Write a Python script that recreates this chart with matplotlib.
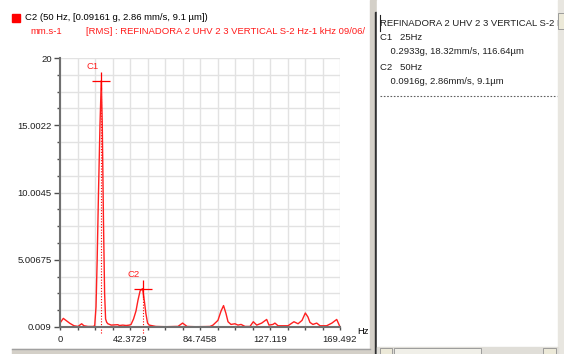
import matplotlib
matplotlib.use('Agg')
import matplotlib.pyplot as plt
from matplotlib.patches import Rectangle
import numpy as np

plt.rcParams['font.family'] = ['Liberation Sans', 'DejaVu Sans']

# spectrum vertices (Hz, mm/s)
freqs = [0.0, 2.0, 3.6, 6.0, 8.5, 10.9, 13.1, 14.5, 16.9, 20.0, 21.0, 21.8, 22.5, 23.3,
         24.2, 25.0, 25.6, 26.3, 27.0, 27.6, 28.3, 29.0, 31.0, 35.0, 36.0, 38.0, 40.0,
         42.0, 43.0, 44.5, 46.0, 47.2, 48.5, 50.0, 51.0, 52.0, 53.0, 54.0, 58.0, 64.0,
         70.0, 71.4, 74.2, 76.9, 82.0, 88.0, 90.8, 92.6, 95.6, 97.5, 99.0, 100.5, 101.7,
         103.5, 105.9, 107.7, 109.6, 112.0, 115.0, 117.0, 119.1, 122.1, 125.1, 126.5,
         128.9, 130.1, 132.0, 138.0, 141.6, 144.1, 146.5, 148.5, 150.1, 151.3, 153.1,
         155.4, 157.4, 161.4, 164.6, 167.5, 169.2]
amps = [0.30, 0.65, 0.50, 0.28, 0.10, 0.05, 0.25, 0.10, 0.05, 0.05, 0.10, 1.5, 5.0, 10.0,
        15.0, 18.32, 15.0, 8.0, 2.5, 0.6, 0.35, 0.25, 0.15, 0.18, 0.12, 0.15, 0.12,
        0.15, 0.20, 0.60, 1.20, 2.00, 2.70, 2.86, 2.00, 1.00, 0.30, 0.15, 0.05, 0.03,
        0.05, 0.05, 0.30, 0.05, 0.03, 0.04, 0.05, 0.15, 0.50, 1.20, 1.60, 1.00, 0.40,
        0.20, 0.25, 0.15, 0.20, 0.05, 0.05, 0.40, 0.15, 0.30, 0.57, 0.15,
        0.20, 0.30, 0.10, 0.10, 0.40, 0.25, 0.50, 1.05, 0.75, 0.35, 0.20,
        0.30, 0.10, 0.10, 0.30, 0.57, 0.10]

marker_names = ['C1', 'C2']
marker_freqs = [25.0, 50.0]
marker_amps = [18.32, 2.86]

y_ticks = [0.009, 5.00675, 10.0045, 15.0022, 20.0]
y_labels = ['0.009', '5.00675', '10.0045', '15.0022', '20']
x_ticks = [0, 42.3729, 84.7458, 127.119, 169.492]
x_labels = ['0', '42.3729', '84.7458', '127.119', '169.492']

header = 'C2 (50 Hz, [0.09161 g, 2.86 mm/s, 9.1 \u00b5m])'
unit = 'mm.s-1'
subtitle = '[RMS] : REFINADORA 2 UHV 2 3 VERTICAL S-2 Hz-1 kHz 09/06/'
panel_lines = ['REFINADORA 2 UHV 2 3 VERTICAL S-2 H',
               'C1   25Hz',
               '    0.2933g, 18.32mm/s, 116.64\u00b5m',
               'C2   50Hz',
               '    0.0916g, 2.86mm/s, 9.1\u00b5m']

W, H = 564, 354
fig = plt.figure(figsize=(W / 100, H / 100), dpi=100)
fig.patch.set_facecolor('white')

# background layer in pixel coordinates
bg = fig.add_axes([0, 0, 1, 1], zorder=0)
bg.set_xlim(0, W)
bg.set_ylim(H, 0)
bg.axis('off')

fs = 6.8
red = '#ff1a1a'
bg.add_patch(Rectangle((12, 14), 8, 8, color='#ff0000', zorder=1))
bg.text(25, 18, header, fontsize=fs, va='center', ha='left', color='black', zorder=1)
bg.text(30, 32, unit, fontsize=fs, va='center', ha='left', color=red, zorder=1)
bg.text(86, 32, subtitle, fontsize=fs, va='center', ha='left', color=red, zorder=1)
bg.text(357, 331, 'Hz', fontsize=fs, va='center', ha='left', color='black', zorder=1)

# splitter and right panel
bg.add_patch(Rectangle((370, 0), 7, H, color='#d4d0c8', zorder=3))
bg.add_patch(Rectangle((375, 12), 2, H, color='#303030', zorder=3))
bg.add_patch(Rectangle((377, 0), W - 377, H, color='white', zorder=3))
bg.add_patch(Rectangle((12, 349), 358, 5, color='#d4d0c8', zorder=3))
bg.plot([12, 370], [349, 349], color='#a0a0a0', lw=1, zorder=3)

y0 = 23
steps = [0, 15, 29, 44, 58]
for s, line in zip(steps, panel_lines):
    bg.text(380, y0 + s, line, fontsize=fs, va='center', ha='left', color='#202020', zorder=4)
bg.plot([380, 557], [96, 96], color='#606060', lw=0.8, ls=(0, (1.5, 1.5)), zorder=4)
bg.plot([380, 380], [15, 31], color='#202020', lw=0.8, zorder=4)

# scrollbars
bg.add_patch(Rectangle((558, 0), 6, H, color='#e8e6e0', zorder=5))
bg.add_patch(Rectangle((558, 13), 6, 16, facecolor='#ece9d8', edgecolor='#909090', lw=0.6, zorder=5))
bg.add_patch(Rectangle((377, 347), 181, 7, color='#e0ded8', zorder=5))
bg.add_patch(Rectangle((380, 348), 12, 6, facecolor='#ece9d8', edgecolor='#909090', lw=0.6, zorder=6))
bg.add_patch(Rectangle((394, 348), 87, 6, facecolor='#f0efe8', edgecolor='#909090', lw=0.6, zorder=6))
bg.add_patch(Rectangle((543, 348), 13, 6, facecolor='#ece9d8', edgecolor='#909090', lw=0.6, zorder=6))

# plot area
left, right, top, bottom = 60, 340, 58, 327
ax = fig.add_axes([left / W, 1 - bottom / H, (right - left) / W, (bottom - top) / H], zorder=2)
ax.patch.set_alpha(0)
ax.set_xlim(0, 169.492)
ax.set_ylim(0.009, 20)

ax.set_xticks(x_ticks)
ax.set_xticklabels(x_labels)
ax.set_yticks(y_ticks)
ax.set_yticklabels(y_labels)
ax.set_xticks(np.linspace(0, 169.492, 17), minor=True)
ax.set_yticks(np.linspace(0.009, 20, 17), minor=True)
ax.grid(which='both', color='#e2e2e2', lw=1)
ax.set_axisbelow(True)
ax.tick_params(which='major', labelsize=fs, colors='#505050', length=4, width=1, pad=2)
ax.tick_params(which='minor', colors='#505050', length=2.5, width=1)
ax.tick_params(axis='x', which='both', direction='out', length=2, pad=4)
for lab in ax.get_xticklabels() + ax.get_yticklabels():
    lab.set_color('#202020')
for side in ['top', 'right']:
    ax.spines[side].set_visible(False)
for side in ['left', 'bottom']:
    ax.spines[side].set_color('#707070')
    ax.spines[side].set_linewidth(1.5)
    ax.spines[side].set_zorder(4)

ax.plot(freqs, amps, color='#ff2020', lw=1, zorder=3, clip_on=False)

for name, f, a in zip(marker_names, marker_freqs, marker_amps):
    ax.plot([f], [a], marker='+', markersize=13, markeredgewidth=0.9, color='#ff0000', zorder=5)
    ax.vlines(f, -0.45, a, colors='#ff0000', linestyles=(0, (1, 1.5)), lw=0.8, zorder=2, clip_on=False)
    ax.annotate(name, (f, a), xytext=(-6.5, 10.5), textcoords='offset points',
                ha='center', va='center', fontsize=fs, color='#ff2020')

fig.savefig('out.png', dpi=100)
